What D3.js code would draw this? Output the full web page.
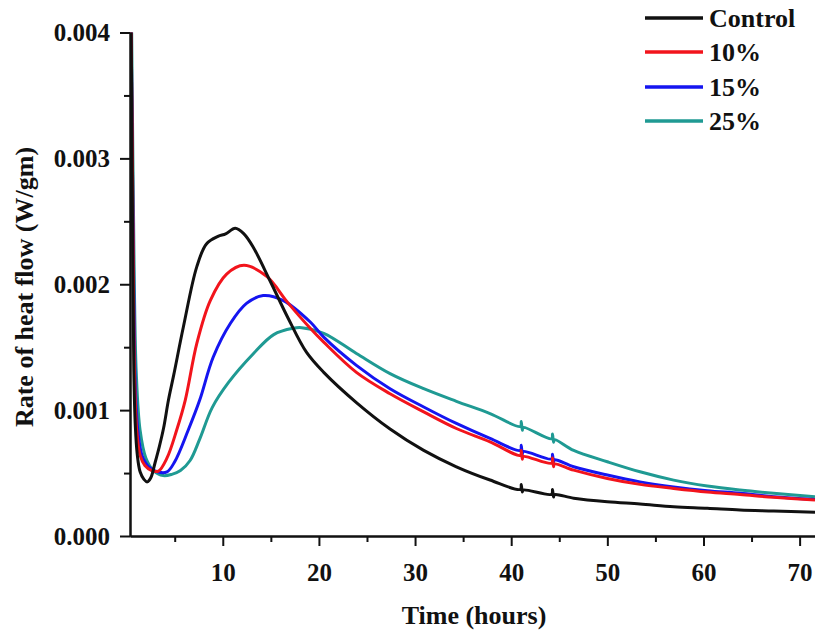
<!DOCTYPE html>
<html>
<head>
<meta charset="utf-8">
<script src="https://cdn.jsdelivr.net/npm/d3@7/dist/d3.min.js"></script>
<style>
  body { margin: 0; background: #fff; }
  svg text { font-family: "Liberation Serif", "Times New Roman", serif; font-weight: bold; fill: #111; }
</style>
</head>
<body>
<svg id="chart"></svg>
<script>
// [time (h), heat flow (W/gm)]
const control = [
  [0.45, 0.0042], [0.55, 0.0032], [0.65, 0.0021], [0.75, 0.0013], [0.9, 0.00088], [1.1, 0.00065],
  [1.4, 0.00051], [1.8, 0.00045], [2.15, 0.00043], [2.5, 0.00046], [2.95, 0.00058], [3.4, 0.00071],
  [3.85, 0.00086], [4.35, 0.00108], [4.9, 0.00128], [5.9, 0.00166], [7.3, 0.00214], [8.3, 0.00232],
  [9.5, 0.00238], [10.3, 0.0024], [11.3, 0.002445], [12.2, 0.0024], [13.2, 0.00229], [14.9, 0.00203],
  [16.8, 0.00173], [18.7, 0.00146], [20.5, 0.00130], [23.9, 0.00106], [27.4, 0.00085], [30.9, 0.00068],
  [34.3, 0.00055], [37.8, 0.000445], [40.95, 0.00037], [41.05, 0.00041], [41.15, 0.00035], [41.25, 0.000365],
  [44.2, 0.000332], [44.3, 0.00037], [44.4, 0.00031], [44.5, 0.000328], [46.5, 0.0003], [50, 0.000272],
  [53.4, 0.000254], [56.9, 0.000232], [60.4, 0.00022], [63.8, 0.000206], [67.3, 0.000198], [71.6, 0.000188]
];
const pct10 = [
  [0.45, 0.0042], [0.6, 0.003], [0.72, 0.0019], [0.85, 0.0012], [1.05, 0.00084], [1.4, 0.00064],
  [1.9, 0.00056], [2.6, 0.00052], [3.3, 0.000515], [4.2, 0.00062], [5.2, 0.00084], [6.1, 0.00108],
  [7.3, 0.00153], [8.7, 0.00187], [10.4, 0.00208], [12.2, 0.00215], [14.6, 0.00206], [16.7, 0.00186],
  [19.1, 0.00165], [20.5, 0.00154], [23.9, 0.0013], [27.4, 0.00113], [30.9, 0.000986], [34.3, 0.000854],
  [37.8, 0.000748], [40.95, 0.00064], [41.05, 0.00068], [41.15, 0.00061], [41.25, 0.000632],
  [44.2, 0.000578], [44.3, 0.00062], [44.4, 0.00055], [44.5, 0.000572], [46.5, 0.000523], [50, 0.000457],
  [53.4, 0.00041], [56.9, 0.000378], [60.4, 0.00035], [63.8, 0.00033], [67.3, 0.000307], [71.6, 0.000285]
];
const pct15 = [
  [0.45, 0.0042], [0.6, 0.003], [0.75, 0.0019], [0.9, 0.0012], [1.15, 0.00085], [1.6, 0.00064],
  [2.3, 0.00055], [3.2, 0.00051], [4.2, 0.00051], [5.0, 0.00059], [6.4, 0.00084], [7.6, 0.00108],
  [9.0, 0.00142], [10.8, 0.00169], [12.5, 0.00185], [14.2, 0.00191], [16.3, 0.00187], [19.1, 0.0017],
  [20.5, 0.00158], [23.9, 0.001356], [27.4, 0.00117], [30.9, 0.001025], [34.3, 0.000894], [37.8, 0.000775],
  [40.95, 0.00068], [41.05, 0.00072], [41.15, 0.00065], [41.25, 0.000672],
  [44.2, 0.000612], [44.3, 0.00065], [44.4, 0.000585], [44.5, 0.000605], [46.5, 0.00055], [50, 0.000484],
  [53.4, 0.00043], [56.9, 0.00039], [60.4, 0.00036], [63.8, 0.000339], [67.3, 0.000312], [71.6, 0.00029]
];
const pct25 = [
  [0.5, 0.0042], [0.65, 0.003], [0.8, 0.002], [1.0, 0.0013], [1.4, 0.00084], [2.0, 0.00062],
  [2.8, 0.00052], [3.8, 0.00048], [4.7, 0.00049], [5.6, 0.00052], [6.6, 0.0006], [7.6, 0.00077],
  [8.9, 0.00102], [10.6, 0.00122], [13.2, 0.00145], [15.3, 0.0016], [17.3, 0.00165], [18.2, 0.001655],
  [20.5, 0.00161], [23.9, 0.00145], [27.4, 0.00129], [30.9, 0.00117], [34.3, 0.00107], [37.8, 0.000973],
  [40.95, 0.00087], [41.05, 0.00091], [41.15, 0.00084], [41.25, 0.000862],
  [44.2, 0.000772], [44.3, 0.00081], [44.4, 0.000745], [44.5, 0.000765], [46.5, 0.00068], [50, 0.00059],
  [53.4, 0.00051], [56.9, 0.000444], [60.4, 0.000397], [63.8, 0.000365], [67.3, 0.000339], [71.6, 0.000312]
];

const seriesNames = ["Control", "10%", "15%", "25%"];
const seriesColors = ["#111111", "#f2141c", "#1515f0", "#1f9a93"];
const seriesData = [control, pct10, pct15, pct25];

const xTicks = [10, 20, 30, 40, 50, 60, 70];
const xMinor = [5, 15, 25, 35, 45, 55, 65];
const yTicks = [0, 0.001, 0.002, 0.003, 0.004];
const yMinor = [0.0005, 0.0015, 0.0025, 0.0035];

const W = 815, H = 631;
const plotLeft = 130, plotRight = 815, plotTop = 32.5, plotBottom = 536;

const svg = d3.select("#chart").attr("width", W).attr("height", H);

const x = d3.scaleLinear().domain([0.35, 71.6]).range([plotLeft, plotRight]);
const y = d3.scaleLinear().domain([0, 0.004]).range([plotBottom, plotTop]);

svg.append("defs").append("clipPath").attr("id", "plot")
  .append("rect").attr("x", plotLeft).attr("y", plotTop)
  .attr("width", plotRight - plotLeft).attr("height", plotBottom - plotTop);

// curves
const line = d3.line()
  .x(d => x(d[0]))
  .y(d => y(d[1]))
  .curve(d3.curveCatmullRom.alpha(0.5));

const g = svg.append("g").attr("clip-path", "url(#plot)");
// draw teal first so black ends on top
[3, 2, 1, 0].forEach(i => {
  g.append("path")
    .datum(seriesData[i])
    .attr("d", line)
    .attr("fill", "none")
    .attr("stroke", seriesColors[i])
    .attr("stroke-width", 3)
    .attr("stroke-linejoin", "round");
});

// axes
svg.append("g").attr("transform", `translate(0,${plotBottom})`)
  .call(d3.axisBottom(x).tickValues(xTicks).tickSize(10).tickSizeOuter(0).tickPadding(17).tickFormat(d3.format("d")));
svg.append("g").attr("transform", `translate(0,${plotBottom})`)
  .call(d3.axisBottom(x).tickValues(xMinor).tickSize(6).tickSizeOuter(0).tickFormat(""));

svg.append("g").attr("transform", `translate(${plotLeft},0)`)
  .call(d3.axisLeft(y).tickValues(yTicks).tickSize(10).tickSizeOuter(0).tickPadding(10).tickFormat(d3.format(".3f")));
svg.append("g").attr("transform", `translate(${plotLeft},0)`)
  .call(d3.axisLeft(y).tickValues(yMinor).tickSize(6).tickSizeOuter(0).tickFormat(""));

svg.selectAll(".domain").attr("stroke", "#111").attr("stroke-width", 2);
svg.selectAll(".tick line").attr("stroke", "#111").attr("stroke-width", 2);
svg.selectAll(".tick text").style("font-size", "25px").attr("fill", "#111");

// axis titles
svg.append("text")
  .attr("x", 474)
  .attr("y", 624)
  .attr("text-anchor", "middle")
  .style("font-size", "26px")
  .text("Time (hours)");

svg.append("text")
  .attr("transform", "rotate(-90)")
  .attr("x", -287)
  .attr("y", 33)
  .attr("text-anchor", "middle")
  .style("font-size", "26px")
  .text("Rate of heat flow (W/gm)");

// legend
const legendY = [18, 52, 87, 121];
seriesNames.forEach((name, i) => {
  svg.append("line")
    .attr("x1", 645).attr("x2", 703)
    .attr("y1", legendY[i]).attr("y2", legendY[i])
    .attr("stroke", seriesColors[i])
    .attr("stroke-width", 3.5);
  svg.append("text")
    .attr("x", 709)
    .attr("y", legendY[i] + 9)
    .style("font-size", "26px")
    .text(name);
});
</script>
</body>
</html>
